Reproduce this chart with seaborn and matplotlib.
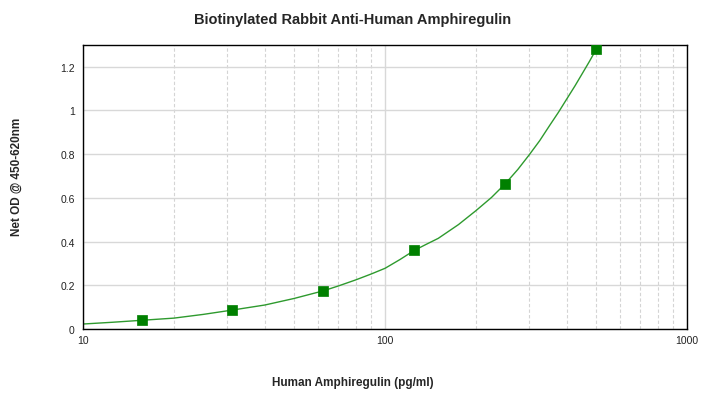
import matplotlib
matplotlib.use("Agg")
import matplotlib.pyplot as plt
import matplotlib.ticker as mticker
import seaborn as sns
import pandas as pd

# standards (pg/ml) and measured OD
conc = [15.625, 31.25, 62.5, 125, 250, 500]
od = [0.041, 0.087, 0.175, 0.362, 0.665, 1.28]

# fitted curve
curve_x = [10, 12.5, 15.625, 20, 25, 31.25, 40, 50, 62.5, 70, 80, 90, 100, 112, 125, 137, 150, 175,
           200, 225, 250, 275, 300, 325, 350, 375, 400, 425, 450, 475, 500]
curve_y = [0.023, 0.031, 0.04, 0.05, 0.067, 0.087, 0.11, 0.14, 0.175, 0.197, 0.225, 0.252, 0.278, 0.318,
           0.36, 0.388, 0.415, 0.478, 0.542, 0.602, 0.665, 0.73, 0.797, 0.862, 0.93, 0.992, 1.054, 1.112,
           1.17, 1.225, 1.28]

pts = pd.DataFrame({"x": conc, "y": od})
fit = pd.DataFrame({"x": curve_x, "y": curve_y})

sns.set_style("white")
plt.rcParams["font.family"] = ["Liberation Sans", "DejaVu Sans"]

fig = plt.figure(figsize=(7.05, 4.10), dpi=100)
ax = fig.add_axes([0.1177, 0.195, 0.857, 0.693])

sns.lineplot(data=fit, x="x", y="y", ax=ax, color="#2e9a2e", linewidth=1.0)
sns.scatterplot(data=pts, x="x", y="y", ax=ax, marker="s", color="#008000",
                s=45, edgecolor="#008000", linewidth=0.5, zorder=5)

ax.set_xscale("log")
ax.set_xlim(10, 1000)
ax.set_ylim(0, 1.3)
ax.xaxis.set_major_locator(mticker.FixedLocator([10, 100, 1000]))
ax.xaxis.set_major_formatter(mticker.FixedFormatter(["10", "100", "1000"]))
ax.xaxis.set_minor_locator(mticker.LogLocator(subs=range(2, 10)))
ax.xaxis.set_minor_formatter(mticker.NullFormatter())
ax.set_yticks([0, 0.2, 0.4, 0.6, 0.8, 1.0, 1.2])
ax.set_yticklabels(["0", "0.2", "0.4", "0.6", "0.8", "1", "1.2"])
ax.set_xlabel("")
ax.set_ylabel("")

ax.grid(True, axis="y", which="major", color="#d8d8d8", linewidth=1, linestyle="-")
ax.grid(True, axis="x", which="major", color="#d8d8d8", linewidth=1, linestyle="-")
ax.grid(True, axis="x", which="minor", color="#d4d4d4", linewidth=0.8, linestyle=(0, (3, 2)))
ax.set_axisbelow(True)

ax.tick_params(axis="both", which="both", length=0, labelsize=7.5, colors="#222222")
ax.tick_params(axis="x", pad=4)
ax.tick_params(axis="y", pad=6)
for s in ax.spines.values():
    s.set_color("black")
    s.set_linewidth(1)

# titles are centred on the figure, not the axes
fig.text(0.5, 1 - 20 / 410, "Biotinylated Rabbit Anti-Human Amphiregulin",
         ha="center", va="center", fontsize=10.5, fontweight="bold")
fig.text(0.5, 1 - 383 / 410, "Human Amphiregulin (pg/ml)",
         ha="center", va="center", fontsize=8.5, fontweight="bold")
fig.text(17 / 705, 1 - 177 / 410, "Net OD @ 450-620nm", rotation=90,
         ha="center", va="center", fontsize=8.5, fontweight="bold")

fig.savefig("out.png", dpi=100)
